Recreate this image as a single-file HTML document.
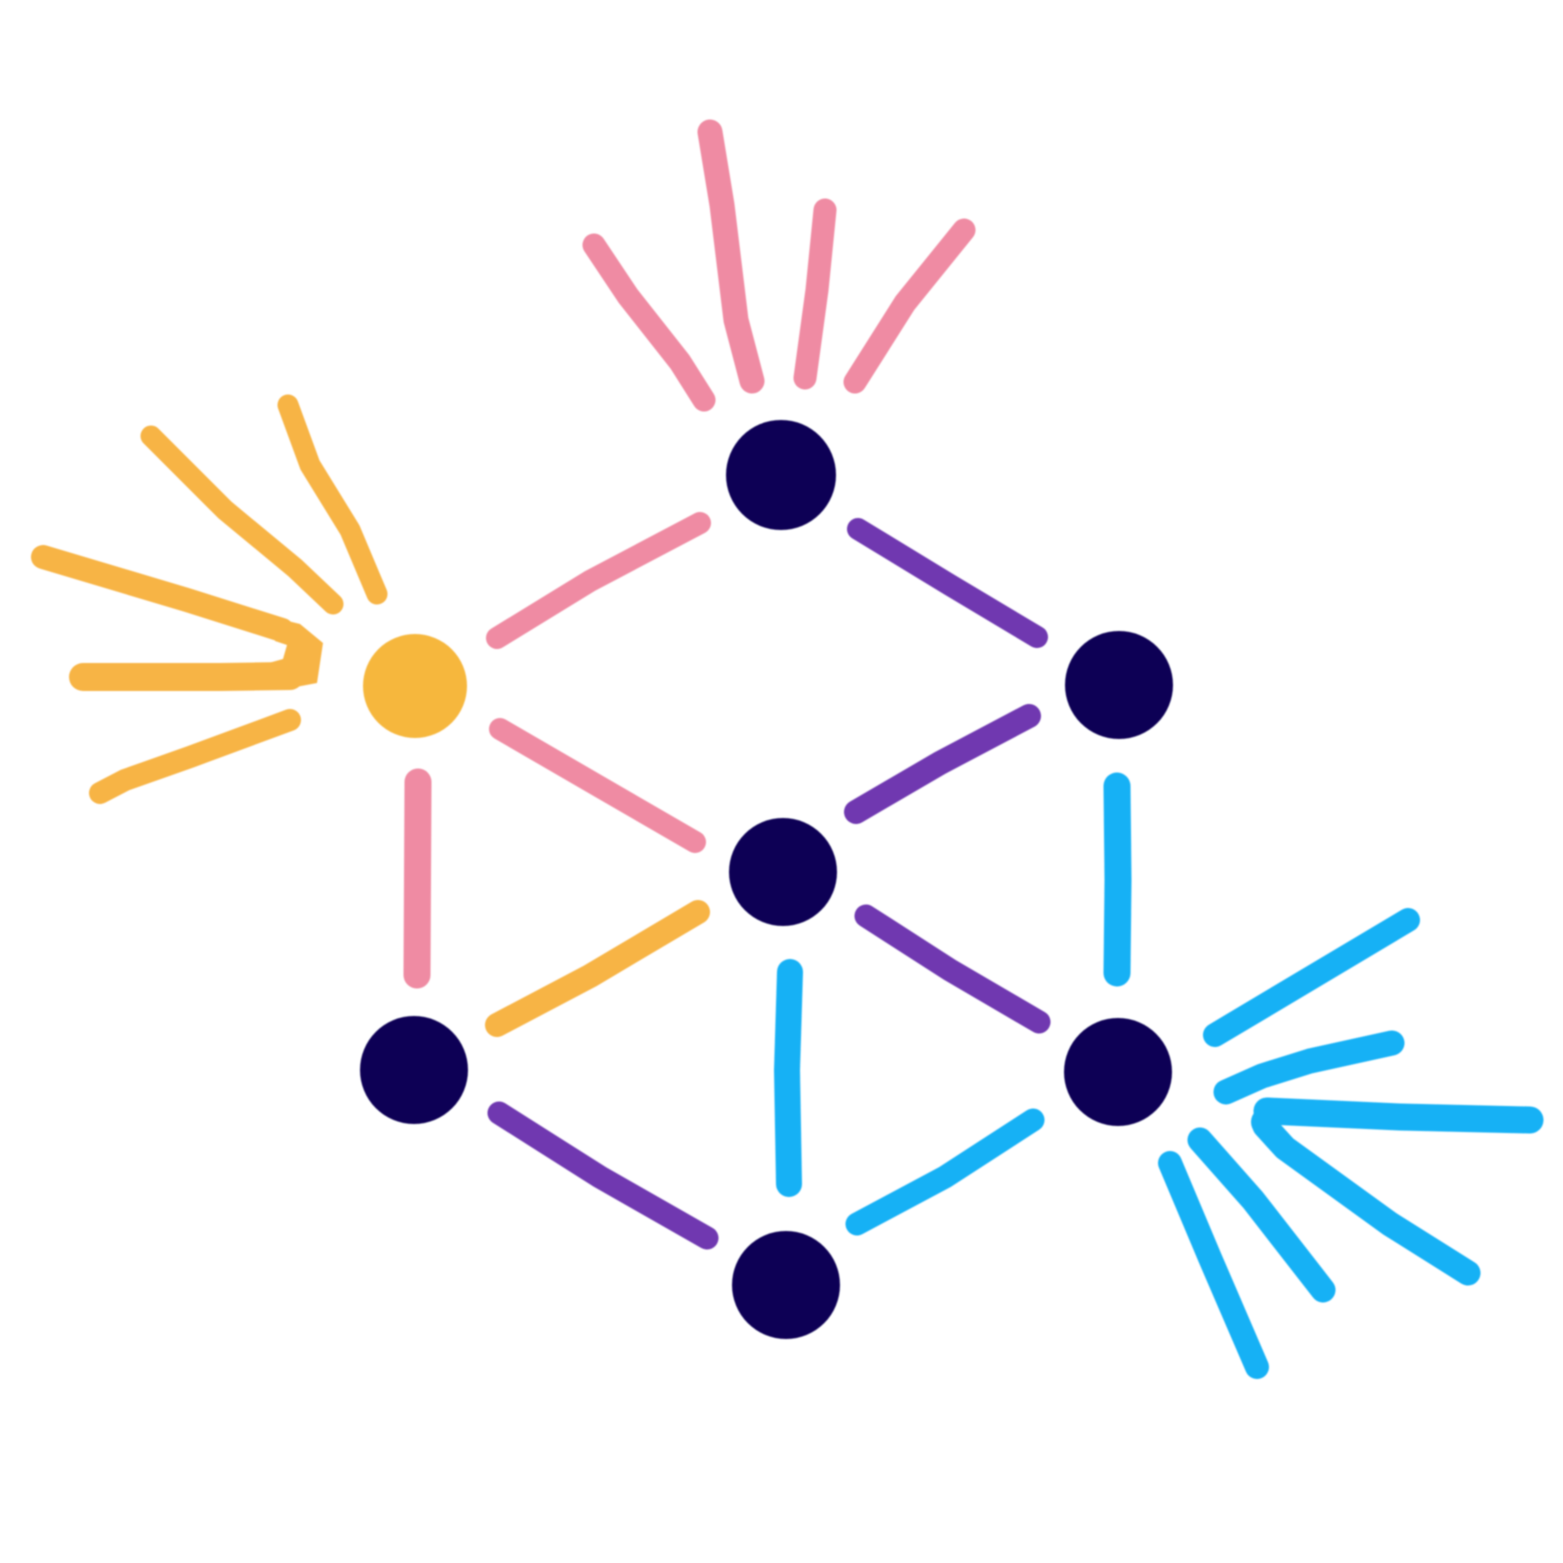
<!DOCTYPE html>
<html lang="en">
<head>
<meta charset="utf-8">
<title>Network graph logo</title>
<style>
html,body{margin:0;padding:0;background:#fff;width:1563px;height:1563px;overflow:hidden}
svg{display:block}
.l{fill:none;stroke-linecap:round;stroke-linejoin:round}
.pink{stroke:#ef8ba3}
.orange{stroke:#f7b444}
.purple{stroke:#6f38b0}
.blue{stroke:#14b1f5}
.navy{fill:#0c0254}
</style>
</head>
<body>
<svg width="1563" height="1563" viewBox="0 0 1563 1563" xmlns="http://www.w3.org/2000/svg">
  <defs>
    <filter id="soft" x="-5%" y="-5%" width="110%" height="110%"><feGaussianBlur stdDeviation="0.9"/></filter>
  </defs>
  <rect width="1563" height="1563" fill="#ffffff"/>

  <g filter="url(#soft)">
  <g>
    <path class="l pink" stroke-width="25" d="M710 132 L722 205 L736 320 L752 381"/>
    <path class="l pink" stroke-width="23" d="M594 245 L628 296 L680 362 L704 400"/>
    <path class="l pink" stroke-width="23" d="M825 210 L817 290 L805 378"/>
    <path class="l pink" stroke-width="23" d="M964 230 L905 303 L855 382"/>
  </g>

  <g>
    <path class="l orange" stroke-width="21" d="M288 405 L310 465 L350 530 L377 594"/>
    <path class="l orange" stroke-width="21" d="M151 436 L225 510 L295 568 L333 604"/>
    <path class="l orange" stroke-width="24" d="M43 557 L187 600 L282 630"/>
    <path class="l orange" stroke-width="28" d="M83 677 L220 677 L290 676"/>
    <path d="M280 619 L300 624 L323 643 L317 683 L280 690 L265 664 L283 659 L287 645 L275 641 Z" fill="#f7b444"/>
    <path class="l orange" stroke-width="22" d="M290 720 L190 757 L125 780 L100 793"/>
  </g>

  <g>
    <path class="l pink" stroke-width="22" d="M497 638 L590 581 L700 523"/>
    <path class="l purple" stroke-width="22" d="M858 529 L950 585 L1037 637"/>
    <path class="l purple" stroke-width="24" d="M1029 716 L940 763 L856 812"/>
    <path class="l pink" stroke-width="22" d="M500 729 L600 787 L695 842"/>
    <path class="l pink" stroke-width="27" d="M418 782 L417 975"/>
    <path class="l orange" stroke-width="24" d="M497 1025 L590 976 L698 912"/>
    <path class="l purple" stroke-width="23" d="M866 916 L950 970 L1039 1022"/>
    <path class="l blue" stroke-width="26" d="M790 972 L787 1070 L789 1184"/>
    <path class="l blue" stroke-width="27" d="M1117 786 L1118 880 L1117 973"/>
    <path class="l purple" stroke-width="23" d="M499 1113 L600 1177 L707 1238"/>
    <path class="l blue" stroke-width="23" d="M857 1224 L945 1177 L1033 1120"/>
  </g>

  <g>
    <path class="l blue" stroke-width="24" d="M1215 1035 L1408 920"/>
    <path class="l blue" stroke-width="25" d="M1226 1092 L1262 1076 L1310 1061 L1392 1043"/>
    <path class="l blue" stroke-width="27" d="M1267 1111 L1400 1117 L1530 1120"/>
    <path class="l blue" stroke-width="25" d="M1265 1126 L1285 1148 L1390 1224 L1468 1273"/>
    <circle cx="1266" cy="1122" r="15" fill="#14b1f5"/>
    <path class="l blue" stroke-width="25" d="M1200 1140 L1253 1200 L1323 1290"/>
    <path class="l blue" stroke-width="24" d="M1170 1163 L1210 1258 L1257 1367"/>
  </g>

  <g>
    <circle class="navy" cx="781" cy="475" r="55"/>
    <circle class="navy" cx="1119" cy="685" r="54"/>
    <circle class="navy" cx="783" cy="872" r="54"/>
    <circle class="navy" cx="1118" cy="1072" r="54"/>
    <circle class="navy" cx="414" cy="1070" r="54"/>
    <circle class="navy" cx="786" cy="1285" r="54"/>
    <circle cx="415" cy="686" r="52" fill="#f6b73c"/>
  </g>
  </g>
</svg>
</body>
</html>
